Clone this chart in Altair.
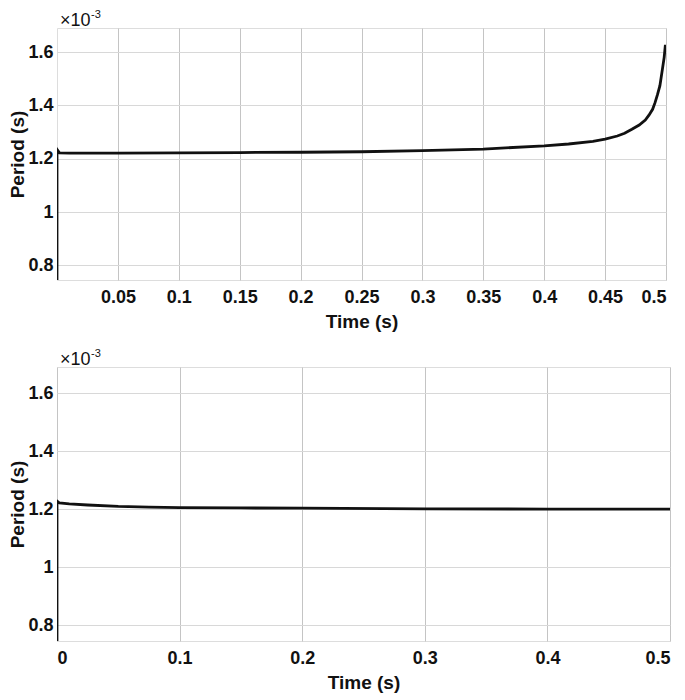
import altair as alt
import pandas as pd

# Top panel: period (x 10^-3 s) vs time (s)
t_top = [0.0, 0.0, 0.002, 0.01, 0.05, 0.1, 0.15, 0.2, 0.25, 0.3, 0.35, 0.4, 0.42, 0.44,
         0.45, 0.46, 0.466, 0.472, 0.478, 0.483, 0.486, 0.489, 0.491, 0.493, 0.495,
         0.497, 0.4985, 0.4995]
p_top = [0.745, 1.235, 1.222, 1.221, 1.221, 1.222, 1.223, 1.224, 1.226, 1.23, 1.236, 1.248,
         1.255, 1.265, 1.273, 1.285, 1.295, 1.31, 1.326, 1.345, 1.363, 1.385, 1.41, 1.44,
         1.474, 1.534, 1.58, 1.627]

# Bottom panel
t_bot = [0.0, 0.0, 0.002, 0.01, 0.025, 0.05, 0.075, 0.1, 0.15, 0.2, 0.3, 0.4, 0.5]
p_bot = [0.745, 1.228, 1.221, 1.218, 1.214, 1.209, 1.207, 1.205, 1.204, 1.203, 1.201, 1.2, 1.2]

y_ticks = [0.8, 1.0, 1.2, 1.4, 1.6]
x_ticks_top = [0.05, 0.1, 0.15, 0.2, 0.25, 0.3, 0.35, 0.4, 0.45, 0.5]
x_ticks_bot = [0.0, 0.1, 0.2, 0.3, 0.4, 0.5]
y_domain = [0.745, 1.69]
x_domain = [0.0, 0.5]

FONT = "Liberation Sans"


def panel(t, p, xticks, w, h):
    df = pd.DataFrame({"t": t, "p": p, "i": list(range(len(t)))})
    line = alt.Chart(df).mark_line(color="#111111", strokeWidth=2.8, clip=True).encode(
        x=alt.X("t:Q",
                scale=alt.Scale(domain=x_domain, nice=False, zero=False),
                axis=alt.Axis(values=xticks, format="~g", title="Time (s)",
                              grid=True, gridColor="#c4c4c4", ticks=False,
                              domain=False, labelPadding=8, titlePadding=6,
                              labelFontSize=18, titleFontSize=19,
                              labelFontWeight="bold", titleFontWeight="bold",
                              labelColor="#111", titleColor="#111",
                              labelFont=FONT, titleFont=FONT)),
        y=alt.Y("p:Q",
                scale=alt.Scale(domain=y_domain, nice=False, zero=False),
                axis=alt.Axis(values=y_ticks, format="~g", title="Period (s)",
                              grid=True, gridColor="#d8d8d8", ticks=False,
                              domain=False, labelPadding=4, titlePadding=0,
                              labelFontSize=18, titleFontSize=19,
                              labelFontWeight="bold", titleFontWeight="bold",
                              labelColor="#111", titleColor="#111",
                              labelFont=FONT, titleFont=FONT)),
        order="i:Q",
    )
    base = alt.Chart(pd.DataFrame({"s": ["×10"]})).mark_text(
        align="left", baseline="alphabetic", fontSize=18, font=FONT, color="#111"
    ).encode(text="s:N", x=alt.value(3), y=alt.value(-2))
    expo = alt.Chart(pd.DataFrame({"s": ["-3"]})).mark_text(
        align="left", baseline="alphabetic", fontSize=11, font=FONT, color="#111"
    ).encode(text="s:N", x=alt.value(34), y=alt.value(-10))
    return alt.layer(line, base, expo).properties(width=w, height=h)


top = panel(t_top, p_top, x_ticks_top, 609, 252)
bot = panel(t_bot, p_bot, x_ticks_bot, 613, 274)

chart = alt.vconcat(top, bot, spacing=15).properties(
    padding={"left": 0, "top": 0, "right": 5, "bottom": 0}
).configure_view(stroke="#a0a0a0", strokeWidth=1).configure(background="white")

chart.save("out.html", embed_options={"renderer": "svg", "actions": False})
